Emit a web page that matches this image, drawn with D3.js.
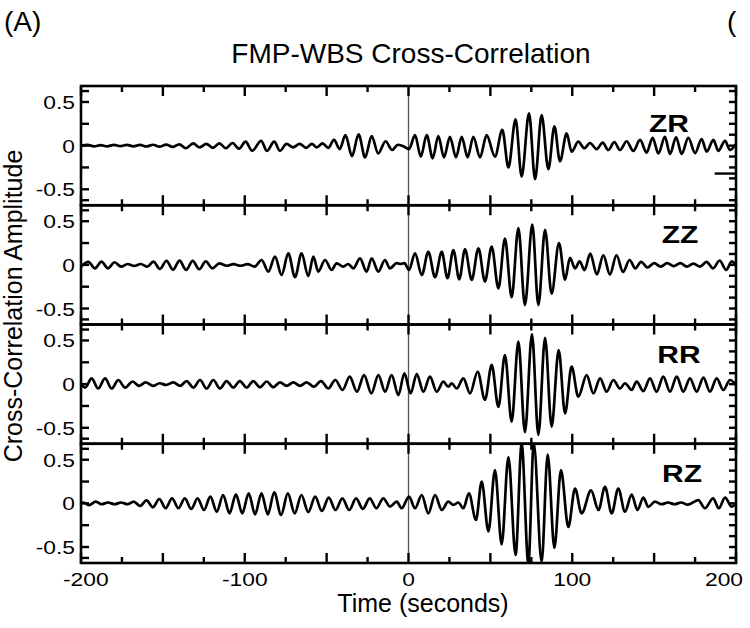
<!DOCTYPE html>
<html><head><meta charset="utf-8">
<script src="https://cdn.jsdelivr.net/npm/d3@7"></script>
<style>body{margin:0;background:#fff}svg{display:block}text{font-family:"Liberation Sans",Arial,sans-serif;fill:#000}</style>
</head><body><svg id="c" width="750" height="628"></svg>
<script>
// ---- data ----
const panelNames = ["ZR", "ZZ", "RR", "RZ"];
const xMajorTicks = [-200, -150, -100, -50, 0, 50, 100, 150, 200];
const xMinorTicks = [-175, -125, -75, -25, 25, 75, 125, 175];
const xTickLabels = [-200, -100, 0, 100, 200];
const yLeftTicks = [-0.625, -0.5, -0.25, 0, 0.25, 0.5, 0.625];
const yRightTicks = [-0.625, -0.5, -0.375, -0.25, -0.125, 0, 0.125, 0.25, 0.375, 0.5, 0.625];
const yTickLabels = [-0.5, 0, 0.5];

// extrema of each trace: [time (s), amplitude]
const zrTrace = [[-200,0],[-196,0.008],[-192,-0.008],[-188,0.006],[-184,-0.008],[-180,0.008],[-176,-0.006],[-172,0.008],[-168,-0.008],[-164,0.008],[-160,-0.01],[-156,0.01],[-152,-0.012],[-148,0.012],[-144,-0.015],[-140,0.015],[-136,-0.03],[-131.5,0.025],[-127.5,-0.02],[-123.5,0.02],[-119.5,-0.025],[-115.5,0.025],[-111.5,-0.03],[-107.5,0.03],[-103.5,-0.035],[-99.5,0.045],[-95.5,-0.06],[-90,0.055],[-86.5,-0.06],[-82,0.045],[-78.5,-0.06],[-74.5,0.02],[-70.5,-0.02],[-66.5,0.02],[-62.5,-0.025],[-59,0.02],[-56,-0.02],[-52.5,0.025],[-49,-0.025],[-45.5,0.065],[-42,-0.04],[-38.5,0.12],[-34.5,-0.12],[-30.5,0.13],[-26.5,-0.135],[-22.5,0.11],[-18.5,-0.09],[-14,0.05],[-10,-0.05],[-6.5,0.01],[-3.5,-0.005],[0.3,-0.04],[4,0.12],[7.5,-0.126],[11.1,0.12],[14.8,-0.145],[18.2,0.11],[21.7,-0.134],[25.3,0.1],[29,-0.134],[32.5,0.1],[36.1,-0.134],[39.6,0.1],[43.7,-0.134],[47.7,0.12],[52.8,-0.126],[57.3,0.18],[61,-0.25],[65.4,0.3],[69.1,-0.355],[73.6,0.37],[77.3,-0.385],[81.3,0.35],[85.4,-0.27],[89.1,0.22],[92.5,-0.18],[96.6,0.14],[99.6,-0.07],[103.7,0.046],[107.4,-0.03],[110.8,0.03],[114.9,-0.04],[118.6,0.035],[122,-0.05],[125.7,0.04],[129.2,-0.05],[133.2,0.05],[137.3,-0.06],[141.4,0.065],[145.4,-0.08],[149.1,0.09],[152.6,-0.09],[156.6,0.1],[159.7,-0.095],[163.4,0.095],[166.8,-0.095],[170.9,0.09],[175,-0.085],[179,0.075],[182.1,-0.07],[186.2,0.065],[189.2,-0.06],[193.3,0.055],[196.3,-0.05],[200,0.02]];

const zzTrace = [[-200,-0.02],[-195.5,0.035],[-191.5,-0.04],[-187.5,0.037],[-183.5,-0.04],[-179.5,0.03],[-175.5,-0.02],[-171.5,0.01],[-167.5,-0.012],[-163.5,0.01],[-159.5,-0.02],[-155.8,0.037],[-151.8,-0.047],[-147.8,0.045],[-143.8,-0.055],[-139.8,0.048],[-135.8,-0.058],[-131.8,0.045],[-127.8,-0.05],[-123.8,0.04],[-119.8,-0.04],[-115.5,0.018],[-111.2,-0.01],[-106.9,0.008],[-102.6,-0.01],[-98.3,0.008],[-94,-0.02],[-89.7,0.056],[-85.6,-0.077],[-81.5,0.094],[-77.5,-0.116],[-73.4,0.132],[-69.3,-0.142],[-65.3,0.132],[-61.2,-0.127],[-58.1,0.094],[-55.1,-0.077],[-51,0.056],[-46.9,-0.058],[-43.9,0.018],[-39.8,-0.02],[-36.8,0.01],[-33.7,-0.04],[-29.6,0.075],[-25.6,-0.077],[-22.5,0.075],[-18.4,-0.077],[-14.4,0.056],[-11.3,-0.04],[-7.2,0.02],[-5,0.01],[-2.5,0.02],[0.3,-0.058],[4,0.132],[8.1,-0.116],[12.1,0.15],[16.2,-0.142],[20.3,0.15],[23.8,-0.153],[27.4,0.17],[31,-0.165],[34.5,0.178],[38.6,-0.172],[42.7,0.19],[46.7,-0.19],[50.8,0.21],[54.9,-0.27],[58.9,0.3],[63,-0.37],[67.1,0.42],[71.1,-0.46],[75.6,0.46],[79.3,-0.46],[83.4,0.4],[87.4,-0.33],[91.9,0.25],[95.6,-0.17],[98.6,0.08],[101.7,-0.04],[104.5,0.04],[107.5,-0.06],[111,0.13],[115,-0.11],[119,0.11],[123,-0.11],[127,0.11],[131,-0.08],[135,0.056],[138.5,-0.04],[142,0.035],[146,-0.03],[150,0.02],[154,-0.02],[158,0.02],[162,-0.015],[166,0.02],[170,-0.02],[174,0.015],[178,-0.02],[182,0.035],[186,-0.04],[190,0.05],[194,-0.058],[197.5,0.04],[200,-0.01]];

const rrTrace = [[-200,0],[-197.5,-0.04],[-193.5,0.066],[-189.5,-0.05],[-185.3,0.066],[-181.3,-0.05],[-177.2,0.047],[-173.1,-0.04],[-168.5,0.03],[-164.5,-0.02],[-160.5,0.02],[-156,-0.02],[-152,0.01],[-148,-0.01],[-143.6,0.02],[-139.5,-0.02],[-135.5,0.035],[-131.4,-0.04],[-127.3,0.047],[-123.3,-0.05],[-119.2,0.047],[-115.1,-0.05],[-111.1,0.035],[-107,-0.04],[-103,0.035],[-98.8,-0.04],[-94.8,0.035],[-90.7,-0.035],[-86.6,0.03],[-82.6,-0.035],[-78.5,0.02],[-74.4,-0.02],[-70.3,0.02],[-66.3,-0.02],[-62.2,0.02],[-57.8,-0.03],[-53.4,0.035],[-49,-0.05],[-44.7,0.047],[-40.3,-0.067],[-35.9,0.085],[-31.5,-0.087],[-27.1,0.104],[-22.7,-0.106],[-18.4,0.104],[-14.3,-0.087],[-10.3,0.104],[-6.2,-0.125],[-2.5,0.123],[1.3,-0.106],[5,0.114],[9.1,-0.087],[13.1,0.085],[17.2,-0.087],[21.3,0.028],[24.3,-0.03],[26.4,0.01],[29.4,-0.05],[33.5,0.066],[37.6,-0.106],[42.2,0.142],[46.7,-0.18],[50.8,0.22],[54.9,-0.26],[58.9,0.333],[63,-0.43],[67.1,0.486],[71.1,-0.55],[75.4,0.57],[79.3,-0.58],[83.4,0.53],[87.4,-0.487],[91.7,0.39],[95.6,-0.335],[99.6,0.2],[103.7,-0.144],[108.8,0.104],[112.9,-0.106],[117,0.066],[121,-0.087],[125.1,0.047],[129.2,-0.05],[132.2,0.01],[136.3,-0.067],[139.3,0.028],[143.4,-0.08],[147.5,0.066],[151.5,-0.087],[155.6,0.085],[159.7,-0.087],[163.8,0.085],[167.8,-0.087],[171.9,0.066],[176,-0.087],[180.1,0.074],[184.1,-0.087],[188.2,0.066],[192.3,-0.067],[196.3,0.047],[200,-0.01]];

const rzTrace = [[-200,0],[-198.5,0.01],[-195,-0.02],[-191,0.02],[-187.5,-0.01],[-183.5,0.01],[-179.5,-0.01],[-175.5,0.01],[-171.5,-0.01],[-167.8,0.02],[-163.9,-0.03],[-160,0.035],[-156.1,-0.045],[-152.2,0.05],[-148.3,-0.056],[-144.4,0.058],[-140.5,-0.056],[-136.6,0.058],[-132.7,-0.064],[-128.8,0.058],[-124.9,-0.076],[-121,0.077],[-117.1,-0.095],[-113.2,0.096],[-109.3,-0.114],[-105.4,0.104],[-101.5,-0.114],[-97.6,0.115],[-93.7,-0.125],[-89.8,0.115],[-85.9,-0.125],[-82,0.127],[-77.8,-0.133],[-73.7,0.115],[-69.5,-0.114],[-65.4,0.096],[-61.2,-0.1],[-57,0.077],[-52.9,-0.087],[-48.7,0.066],[-44.6,-0.076],[-40.4,0.058],[-36.2,-0.076],[-32,0.058],[-27.9,-0.064],[-23.7,0.058],[-19.6,-0.056],[-15.4,0.058],[-11.3,-0.037],[-7.2,0.02],[-4.2,-0.056],[0.3,0.077],[4,-0.056],[8.1,0.096],[12.1,-0.114],[16.2,0.096],[20.3,-0.076],[24.3,0.02],[27.4,-0.018],[30.4,0.01],[33.5,-0.056],[36.9,0.115],[41.2,-0.19],[44.7,0.25],[48.8,-0.32],[52.8,0.38],[56.9,-0.47],[61,0.53],[65.4,-0.59],[69.1,0.68],[73.2,-0.69],[76.5,0.69],[81.3,-0.67],[85,0.56],[89.1,-0.51],[93.1,0.38],[97.6,-0.27],[101.7,0.17],[105.7,-0.114],[111.5,0.15],[116,-0.076],[120,0.19],[124.1,-0.114],[128.1,0.17],[132.2,-0.095],[136.3,0.1],[139.8,-0.076],[143.4,0.066],[146.5,-0.04],[150.5,0.02],[154.5,-0.01],[158.5,0.01],[162.5,-0.01],[166.5,0.01],[170.5,-0.015],[177,0.038],[181,-0.056],[186,0.058],[189.5,-0.056],[193.3,0.066],[197.4,-0.037],[200,0]];

const traces = [zrTrace, zzTrace, rrTrace, rzTrace];
const markerValue = -0.32;   // short mark at right edge of the ZR panel

// ---- layout ----
const L = 81, R = 736, T = 86, B = 563;
const ph = (B - T) / 4;
const svg = d3.select("#c");
const x = d3.scaleLinear().domain([-200, 200]).range([L, R]);

function label(g, s, tx, ty, size, anchor, sx, weight) {
  return g.append("text")
    .attr("transform", `translate(${tx},${ty}) scale(${sx},1)`)
    .attr("text-anchor", anchor)
    .style("font-size", size + "px")
    .style("font-weight", weight || "normal")
    .text(s);
}

// zero-lag line
svg.append("line").attr("x1", x(0)).attr("x2", x(0)).attr("y1", T).attr("y2", B)
  .attr("stroke", "#555").attr("stroke-width", 1.3);

const labelPos = [[669, 46], [680, 38], [679, 38.5], [682, 38]];

panelNames.forEach((name, i) => {
  const top = T + i * ph, bot = top + ph;
  const y = d3.scaleLinear().domain([-0.683, 0.683]).range([bot, top]);
  const g = svg.append("g");

  g.append("clipPath").attr("id", "clip" + i)
    .append("rect").attr("x", L).attr("y", top).attr("width", R - L).attr("height", ph);

  const line = d3.line().x(d => x(d[0])).y(d => y(d[1])).curve(d3.curveMonotoneX);
  g.append("path").datum(traces[i]).attr("d", line)
    .attr("clip-path", `url(#clip${i})`)
    .attr("fill", "none").attr("stroke", "#000").attr("stroke-width", 2.7)
    .attr("stroke-linejoin", "round");

  // frame
  g.append("rect").attr("x", L).attr("y", top).attr("width", R - L).attr("height", ph)
    .attr("fill", "none").attr("stroke", "#000").attr("stroke-width", 2.6);

  const tk = g.append("g").attr("stroke", "#000").attr("stroke-width", 2.4);
  // top & bottom ticks (inward)
  xMajorTicks.forEach(v => {
    tk.append("line").attr("x1", x(v)).attr("x2", x(v)).attr("y1", top).attr("y2", top + 10);
    tk.append("line").attr("x1", x(v)).attr("x2", x(v)).attr("y1", bot).attr("y2", bot - 10);
  });
  xMinorTicks.forEach(v => {
    tk.append("line").attr("x1", x(v)).attr("x2", x(v)).attr("y1", top).attr("y2", top + 6);
    tk.append("line").attr("x1", x(v)).attr("x2", x(v)).attr("y1", bot).attr("y2", bot - 6);
  });
  yLeftTicks.forEach(v => {
    tk.append("line").attr("x1", L).attr("x2", L + 8).attr("y1", y(v)).attr("y2", y(v));
  });
  yRightTicks.forEach(v => {
    tk.append("line").attr("x1", R).attr("x2", R - 7).attr("y1", y(v)).attr("y2", y(v));
  });
  if (i === 0) {
    tk.append("line").attr("x1", x(187)).attr("x2", R).attr("y1", y(markerValue)).attr("y2", y(markerValue));
  }

  yTickLabels.forEach(v => {
    label(g, v === 0 ? "0" : String(v), 75, y(v) + 7, 19, "end", 1.2);
  });

  label(g, name, labelPos[i][0], top + labelPos[i][1], 24, "middle", 1.25, "bold");
});

// x tick labels
xTickLabels.forEach((v, k) => {
  let anchor = "middle", px = x(v);
  if (k === 0) { anchor = "start"; px = x(v) - 18; }
  if (k === xTickLabels.length - 1) { anchor = "end"; px = x(v) + 7; }
  label(svg, String(v), px, 586, 19, anchor, 1.2);
});

// titles and axis labels
label(svg, "FMP-WBS Cross-Correlation", 411, 63, 28, "middle", 1);
label(svg, "(A)", 4, 31, 28, "start", 1);
label(svg, "(", 727, 31, 28, "start", 1);
label(svg, "Time (seconds)", 423, 612, 25, "middle", 1);
svg.append("text").attr("transform", "translate(22,306) rotate(-90)")
  .attr("text-anchor", "middle").style("font-size", "25px")
  .text("Cross-Correlation Amplitude");
</script></body></html>
